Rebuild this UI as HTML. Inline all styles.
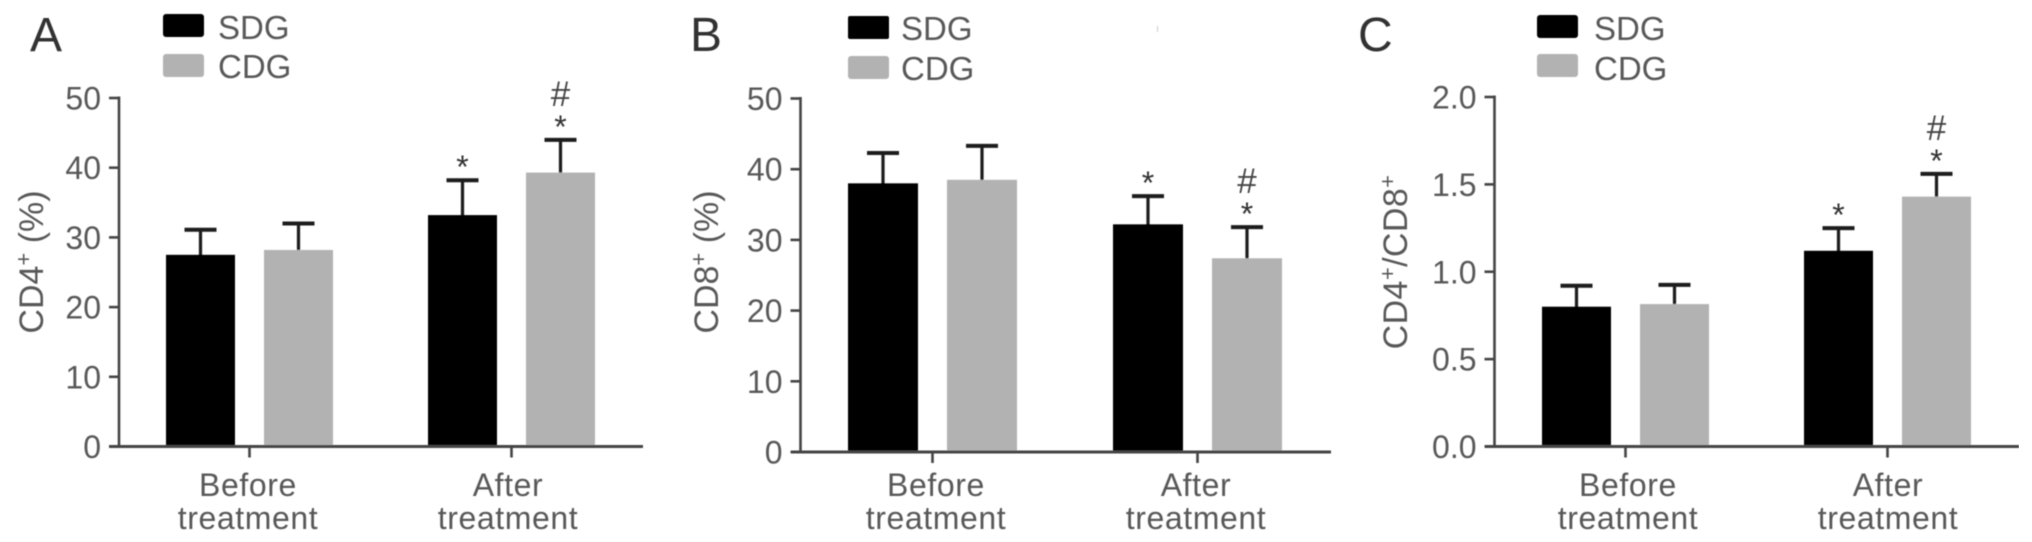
<!DOCTYPE html>
<html lang="en">
<head>
<meta charset="utf-8">
<title>CD4+ and CD8+ by group, before and after treatment</title>
<style>
  html, body { margin: 0; padding: 0; background: #fff; }
  svg { display: block; }
  text { font-family: "Liberation Sans", sans-serif; fill: #585858; }
  .letter { font-size: 48px; fill: #333; }
  .tick, .cat { font-size: 32px; }
  .legend { font-size: 33px; }
  .cat { text-anchor: middle; letter-spacing: 0.6px; }
  .ytitle { text-anchor: middle; font-size: 34px; }
  .sup { font-size: 22px; }
</style>
</head>
<body>
<svg id="figure" width="2032" height="542" viewBox="0 0 2032 542" xmlns="http://www.w3.org/2000/svg">
  <defs><filter id="soft" x="0" y="0" width="100%" height="100%"><feGaussianBlur stdDeviation="0.6"/></filter></defs>
  <rect width="2032" height="542" fill="#fff"/>
  <g id="root" filter="url(#soft)">

    <g id="panel-a">
      <text class="letter" x="30" y="51">A</text>
      <rect x="163" y="14" width="41" height="23" rx="3" fill="#000"/>
      <text class="legend" x="218" y="39">SDG</text>
      <rect x="163" y="54" width="41" height="23" rx="3" fill="#b2b2b2"/>
      <text class="legend" x="218" y="78">CDG</text>
      <text class="ytitle" transform="translate(43,262) rotate(-90)">CD4<tspan class="sup" dy="-12">+</tspan><tspan dy="12"> (%)</tspan></text>
      <text class="cat" x="248" y="496">Before</text>
      <text class="cat" x="248" y="529">treatment</text>
      <text class="cat" x="508" y="496">After</text>
      <text class="cat" x="508" y="529">treatment</text>
    </g>

    <g id="panel-b">
      <text class="letter" x="690" y="51">B</text>
      <rect x="848" y="16" width="41" height="23" rx="2" fill="#000"/>
      <text class="legend" x="901" y="40">SDG</text>
      <rect x="848" y="56" width="41" height="23" rx="3" fill="#b2b2b2"/>
      <text class="legend" x="901" y="80">CDG</text>
      <text class="ytitle" transform="translate(718,262) rotate(-90)">CD8<tspan class="sup" dy="-12">+</tspan><tspan dy="12"> (%)</tspan></text>
      <text class="cat" x="936" y="496">Before</text>
      <text class="cat" x="936" y="529">treatment</text>
      <text class="cat" x="1196" y="496">After</text>
      <text class="cat" x="1196" y="529">treatment</text>
      <rect x="1157" y="26" width="1" height="6" fill="#ccc"/>
    </g>

    <g id="panel-c">
      <text class="letter" x="1358" y="51">C</text>
      <rect x="1537" y="15" width="41" height="23" rx="3" fill="#000"/>
      <text class="legend" x="1594" y="40">SDG</text>
      <rect x="1537" y="54" width="41" height="23" rx="3" fill="#b2b2b2"/>
      <text class="legend" x="1594" y="80">CDG</text>
      <text class="ytitle" transform="translate(1407,262) rotate(-90)" letter-spacing="0.4">CD4<tspan class="sup" dy="-12">+</tspan><tspan dy="12">/CD8</tspan><tspan class="sup" dy="-12">+</tspan></text>
      <text class="cat" x="1628" y="496">Before</text>
      <text class="cat" x="1628" y="529">treatment</text>
      <text class="cat" x="1888" y="496">After</text>
      <text class="cat" x="1888" y="529">treatment</text>
    </g>
  </g>
</svg>

<script>
// ---- Data ----
const seriesNames = ["SDG", "CDG"];
const categories = ["Before", "After"];

const cd4Sdg = [27.5, 33.2];
const cd4SdgUpper = [31.1, 38.2];
const cd4Cdg = [28.2, 39.3];
const cd4CdgUpper = [32.0, 44.0];
const cd4SdgMarks = ["", "*"];
const cd4CdgMarks = ["", "*#"];
const cd4Ticks = ["0", "10", "20", "30", "40", "50"];

const cd8Sdg = [38.0, 32.2];
const cd8SdgUpper = [42.3, 36.2];
const cd8Cdg = [38.5, 27.4];
const cd8CdgUpper = [43.3, 31.8];
const cd8SdgMarks = ["", "*"];
const cd8CdgMarks = ["", "*#"];
const cd8Ticks = ["0", "10", "20", "30", "40", "50"];

const ratioSdg = [0.80, 1.12];
const ratioSdgUpper = [0.92, 1.25];
const ratioCdg = [0.815, 1.43];
const ratioCdgUpper = [0.925, 1.56];
const ratioSdgMarks = ["", "*"];
const ratioCdgMarks = ["", "*#"];
const ratioTicks = ["0.0", "0.5", "1.0", "1.5", "2.0"];

// ---- Panel geometry ----
const SVG_NS = "http://www.w3.org/2000/svg";
const BAR_COLORS = ["#000000", "#b2b2b2"];

function shape(parent, tag, attrs) {
  const el = document.createElementNS(SVG_NS, tag);
  for (const k in attrs) el.setAttribute(k, attrs[k]);
  parent.appendChild(el);
  return el;
}

function drawPanel(cfg) {
  const g = document.getElementById(cfg.id);
  const yScale = v => cfg.y0 - (v / cfg.yMax) * (cfg.y0 - cfg.yTop);
  const groupCenter = c => cfg.groupStart + c * cfg.groupStep;
  const barLeft = (c, s) => groupCenter(c) + (s === 0 ? -cfg.barWidth - cfg.barGap / 2 : cfg.barGap / 2);

  cfg.series.forEach((ser, s) => {
    categories.forEach((cat, c) => {
      const x = barLeft(c, s);
      const cx = x + cfg.barWidth / 2;
      const yVal = yScale(ser.values[c]);
      const yUp = yScale(ser.upper[c]);

      const stem = shape(g, "line", { x1: cx, x2: cx, y1: yUp, y2: yVal + 2, stroke: "#1a1a1a", "stroke-width": 3.2 });
      
      

      const cap = shape(g, "line", { x1: cx - 16, x2: cx + 16, y1: yUp, y2: yUp, stroke: "#1a1a1a", "stroke-width": 4 });
      
      

      const bar = shape(g, "rect", { x: x, y: yVal, width: cfg.barWidth, height: cfg.y0 - yVal, fill: BAR_COLORS[s] });
      
      

      const mark = ser.marks[c];
      if (mark.indexOf("*") >= 0) {
        const star = shape(g, "text", { x: cx, y: yUp - 2, "text-anchor": "middle", "font-size": 32 });
        star.style.fill = "#333";
        star.textContent = "*";
        
        
      }
      if (mark.indexOf("#") >= 0) {
        const hash = shape(g, "text", { x: cx, y: yUp - 34, "text-anchor": "middle", "font-size": 35 });
        hash.style.fill = "#444";
        hash.textContent = "#";
        
        
      }
    });
  });

  // y axis line
  const yAxis = shape(g, "line", { x1: cfg.axisX, x2: cfg.axisX, y1: cfg.yTop - 1.5, y2: cfg.y0, stroke: "#444", "stroke-width": 2.6 });
  
  

  // x axis line
  const xAxis = shape(g, "line", { x1: cfg.xStart, x2: cfg.xEnd, y1: cfg.y0, y2: cfg.y0, stroke: "#444", "stroke-width": 3 });
  
  

  // y ticks
  cfg.ticks.forEach(label => {
    const y = yScale(parseFloat(label));
    const tick = shape(g, "line", { x1: cfg.axisX - 10, x2: cfg.axisX, y1: y, y2: y, stroke: "#444", "stroke-width": 2.6 });
    
    
    const t = shape(g, "text", { x: cfg.axisX - 18, y: y + 11.5, "text-anchor": "end", class: "tick" });
    t.textContent = label;
    
    
  });

  // x ticks
  categories.forEach((cat, c) => {
    const x = groupCenter(c);
    const tick = shape(g, "line", { x1: x, x2: x, y1: cfg.y0, y2: cfg.y0 + 11, stroke: "#444", "stroke-width": 2.6 });
    
    
  });
}

drawPanel({
  id: "panel-a", axisX: 119, yTop: 98, y0: 446.5, yMax: 50,
  xStart: 109, xEnd: 643, groupStart: 249.5, groupStep: 262, barWidth: 69, barGap: 29,
  ticks: cd4Ticks,
  series: [
    { values: cd4Sdg, upper: cd4SdgUpper, marks: cd4SdgMarks },
    { values: cd4Cdg, upper: cd4CdgUpper, marks: cd4CdgMarks }
  ]
});
drawPanel({
  id: "panel-b", axisX: 800.5, yTop: 98.5, y0: 452, yMax: 50,
  xStart: 791, xEnd: 1331, groupStart: 932.5, groupStep: 265, barWidth: 70, barGap: 29,
  ticks: cd8Ticks,
  series: [
    { values: cd8Sdg, upper: cd8SdgUpper, marks: cd8SdgMarks },
    { values: cd8Cdg, upper: cd8CdgUpper, marks: cd8CdgMarks }
  ]
});
drawPanel({
  id: "panel-c", axisX: 1494.5, yTop: 97, y0: 446.5, yMax: 2,
  xStart: 1485, xEnd: 2019, groupStart: 1625.5, groupStep: 262, barWidth: 69, barGap: 29,
  ticks: ratioTicks,
  series: [
    { values: ratioSdg, upper: ratioSdgUpper, marks: ratioSdgMarks },
    { values: ratioCdg, upper: ratioCdgUpper, marks: ratioCdgMarks }
  ]
});
</script>
</body>
</html>
